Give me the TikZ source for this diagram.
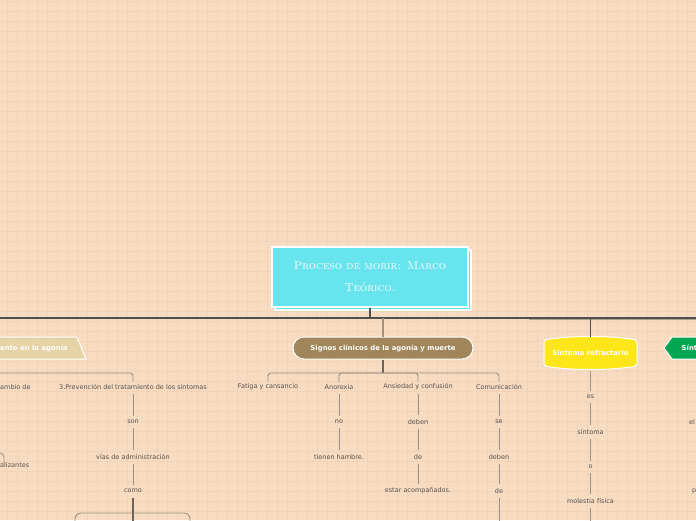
\documentclass[tikz,border=0pt]{standalone}
\usepackage{fontspec}
\newfontfamily\lbl{DejaVu Sans}
\definecolor{bgc}{HTML}{F7DCC2}
\definecolor{gridc}{HTML}{F0D3B9}
\definecolor{cyanc}{HTML}{68E4EE}
\definecolor{brownc}{HTML}{A0865A}
\definecolor{beigec}{HTML}{E6D3A6}
\definecolor{yellowc}{HTML}{FFE619}
\definecolor{greenc}{HTML}{00A651}
\definecolor{mainln}{HTML}{4F4F4F}
\definecolor{connc}{HTML}{A09282}
\definecolor{darkconn}{HTML}{6E6258}
\definecolor{txtc}{HTML}{5A534D}
\begin{document}
\begin{tikzpicture}[x=1pt,y=-1pt,
  lab/.style={font=\lbl\fontsize{6.5}{7.5}\selectfont, text=txtc, inner sep=2pt},
  boxtxt/.style={font=\lbl\bfseries\fontsize{6.9}{8}\selectfont, text=white, inner sep=0pt},
  conn/.style={draw=connc, line width=0.9pt},
  dconn/.style={draw=darkconn, line width=1.4pt},
  mainline/.style={draw=mainln, line width=1.3pt},
  chain/.style={conn, shorten <=2pt, shorten >=2pt}]
\useasboundingbox (0,0) rectangle (696,520);
\clip (0,0) rectangle (696,520);
\fill[bgc] (0,0) rectangle (696,520);
\foreach \x in {7.3,17.3,...,696} \draw[gridc, line width=0.6pt] (\x,0) -- (\x,520);
\foreach \y in {1.7,11.7,...,520} \draw[gridc, line width=0.6pt] (0,\y) -- (696,\y);

% main topic
\filldraw[fill=cyanc, draw=white, line width=1.2pt] (275,250) rectangle (471,310);
\node[fill=cyanc, draw=white, line width=1.2pt, minimum width=196pt, minimum height=60pt,
      align=center, text=white, font=\scshape\fontsize{11.5}{22}\selectfont] (root) at (370,277)
      {Proceso de morir: Marco\\Teórico.};

\coordinate (hl) at (0,318);
\coordinate (hr) at (696,318);
\coordinate (gl) at (529,319.6);
\coordinate (gr) at (696,319.6);
\draw[conn, draw=connc!80!bgc, line width=0.8pt] (gl) -- (gr);
\draw[mainline] (hl) -- (hr);
\draw[mainline] (root.south) -- (root.south |- hl);

% left (beige) branch
\filldraw[fill=beigec, draw=white, line width=1pt] (-10,337) -- (77,337) -- (86,359) -- (-10,359) -- cycle;
\node[boxtxt, anchor=east] (beige) at (68,348) {ento en la agonía};
\coordinate (bl) at (-5,373);
\coordinate (bt) at (133,381);
\draw[conn, rounded corners=3pt] (bl) -- (133,373) -- (bt);
\node[lab, anchor=west, inner xsep=0pt] (cambio) at (0,387) {ambio de};
\node[lab] (prev) at (133,387) {3.Prevención del tratamiento de los síntomas};
\node[lab] (son) at (133,422) {son};
\node[lab] (vias) at (133,457) {vías de administración};
\node[lab] (como) at (133,491) {como};
\draw[chain] (prev) -- (son);
\draw[chain] (son) -- (vias);
\draw[chain] (vias) -- (como);
\coordinate (comoend) at (133,522);
\draw[conn, rounded corners=6pt] (75,525) -- (75,513) -- (190,513) -- (190,525);
\draw[dconn] (como.south) ++(0,3) -- (comoend);
\coordinate (arcA) at (-8,453);
\coordinate (arcB) at (4,464);
\draw[conn, rounded corners=4pt] (arcA) -- (4,453) -- (arcB);
\node[lab, anchor=west, inner xsep=0pt] (aliz) at (0,465) {alizantes};

% brown branch
\node[fill=brownc, draw=white, line width=1pt, rounded corners=11pt, minimum width=180pt,
      minimum height=22pt, boxtxt, inner sep=0pt] (signos) at (383,348)
      {Signos clínicos de la agonía y muerte};
\draw[conn, line width=1.2pt] (signos.north) -- (signos.north |- hl);
\coordinate (sbar) at (383,373);
\draw[dconn] (signos.south) -- (sbar);
\node[lab] (fatiga) at (268,387) {Fatiga y cansancio};
\node[lab] (anor) at (339,387) {Anorexia};
\node[lab] (ansi) at (418,387) {Ansiedad y confusión};
\node[lab] (comu) at (499,387) {Comunicación};
\draw[conn, rounded corners=3pt] (fatiga.north) -- (268,373) -- (499,373) -- (comu.north);
\draw[conn, rounded corners=3pt] (anor.north) -- (339,373) -- (418,373) -- (ansi.north);

\node[lab] (no) at (339,422) {no};
\node[lab] (hambre) at (339,457) {tienen hambre.};
\draw[chain] (anor) -- (no);
\draw[chain] (no) -- (hambre);

\node[lab] (deben1) at (418,422) {deben};
\node[lab] (de1) at (418,457) {de};
\node[lab] (acomp) at (418,491) {estar acompañados.};
\draw[chain] (ansi) -- (deben1);
\draw[chain] (deben1) -- (de1);
\draw[chain] (de1) -- (acomp);

\node[lab] (se) at (499,422) {se};
\node[lab] (deben2) at (499,457) {deben};
\node[lab] (de2) at (499,491) {de};
\coordinate (de2end) at (499,522);
\draw[chain] (comu) -- (se);
\draw[chain] (se) -- (deben2);
\draw[chain] (deben2) -- (de2);
\draw[conn, shorten <=2pt] (de2) -- (de2end);

% yellow branch
\filldraw[fill=yellowc, draw=white, line width=1pt, rounded corners=2pt]
  (544,340) .. controls (570,335.5) and (611,335.5) .. (637,340) -- (637,366)
  .. controls (611,370.5) and (570,370.5) .. (544,366) -- cycle;
\node[boxtxt, minimum width=93pt, minimum height=32pt] (sinto) at (590.5,353) {Síntoma refractario};
\draw[mainline, line width=1pt] (sinto.north) -- (sinto.north |- hl);
\node[lab] (es) at (590.5,397) {es};
\node[lab] (sint2) at (590.5,432) {síntoma};
\node[lab] (o) at (590.5,467) {o};
\node[lab] (molest) at (590.5,501) {molestia física};
\coordinate (molend) at (590.5,522);
\draw[chain] (sinto) -- (es);
\draw[chain] (es) -- (sint2);
\draw[chain] (sint2) -- (o);
\draw[chain] (o) -- (molest);
\draw[conn, shorten <=2pt] (molest) -- (molend);

% green branch
\filldraw[fill=greenc, draw=white, line width=1pt] (700,337) -- (672,337) -- (664,348) -- (672,359) -- (700,359) -- cycle;
\node[boxtxt, anchor=west] (green) at (681.5,348) {Sínt};
\node[lab, anchor=west, inner xsep=0pt] (el) at (689,422) {el};
\node[lab, anchor=west, inner xsep=0pt] (pp) at (692,491) {p};
\end{tikzpicture}
\end{document}
